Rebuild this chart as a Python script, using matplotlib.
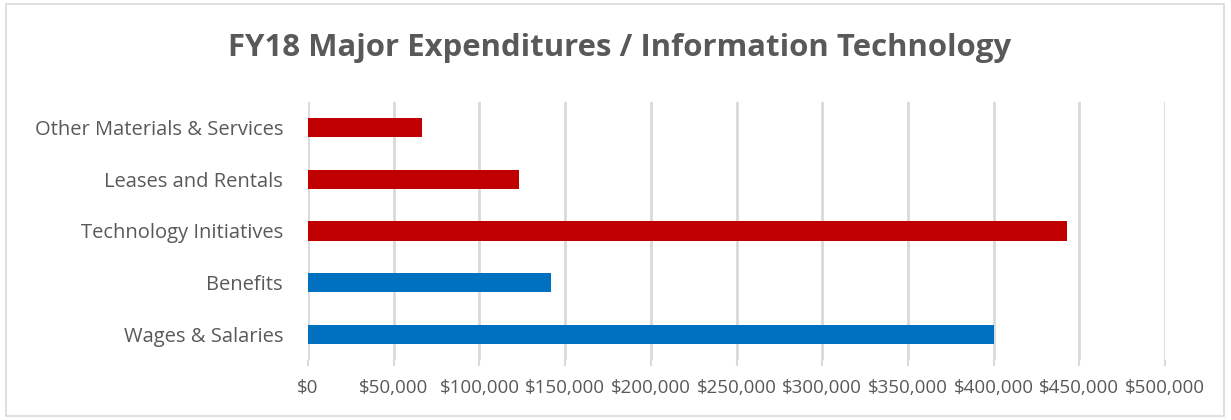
import matplotlib
matplotlib.use("Agg")
import matplotlib.pyplot as plt
from matplotlib.patches import Rectangle
from matplotlib.ticker import FuncFormatter

categories = ["Wages & Salaries", "Benefits", "Technology Initiatives",
              "Leases and Rentals", "Other Materials & Services"]
amounts = [400000, 142000, 443000, 123000, 66500]
bar_colors = ["#0070C0", "#0070C0", "#C00000", "#C00000", "#C00000"]

plt.rcParams['font.family'] = ['Open Sans', 'DejaVu Sans']
text_gray = "#595959"

fig = plt.figure(figsize=(12.31, 4.2), dpi=100)
ax = fig.add_axes([308 / 1231, 1 - 360 / 420, (1165 - 308) / 1231, (360 - 102) / 420])

ax.barh(range(len(categories)), amounts, height=0.37, color=bar_colors, zorder=3)
ax.set_xlim(0, 500000)
ax.set_ylim(-0.5, len(categories) - 0.5)
ax.set_xticks(range(0, 500001, 50000))
ax.xaxis.set_major_formatter(FuncFormatter(lambda v, p: f"${v:,.0f}"))
ax.set_yticks(range(len(categories)))
ax.set_yticklabels(categories)

ax.grid(axis="x", color="#D9D9D9", linewidth=2, zorder=0)
for s in ax.spines.values():
    s.set_visible(False)
ax.tick_params(axis="x", length=4, color="#D9D9D9", width=1.5, pad=10,
               labelsize=13.5, labelcolor=text_gray)
ax.tick_params(axis="y", length=0, pad=18, labelsize=14.5, labelcolor=text_gray)

fig.text(0.503, 1 - 48 / 420, "FY18 Major Expenditures / Information Technology",
         ha="center", va="center", fontsize=22.4, fontweight="bold", color=text_gray)

fig.patches.append(Rectangle((6 / 1231, 4 / 420), 1218 / 1231, 412 / 420,
                             transform=fig.transFigure, fill=False,
                             edgecolor="#D9D9D9", linewidth=1.2))

fig.savefig("out.png", dpi=100)
